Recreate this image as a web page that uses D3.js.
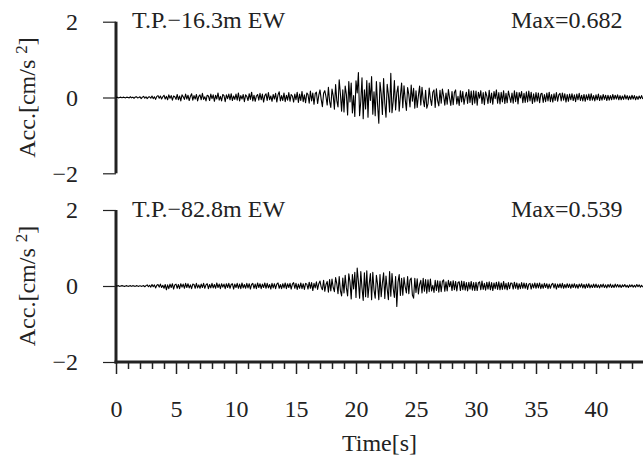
<!DOCTYPE html>
<html><head><meta charset="utf-8">
<script src="https://cdn.jsdelivr.net/npm/d3@7"></script>
<style>
html,body{margin:0;padding:0;background:#fff;}
svg{display:block;font-family:"Liberation Serif","Times New Roman",serif;}
</style></head>
<body>
<svg id="c" width="643" height="459"></svg>
<script>
// sampling interval of the records [s]
const dt = 0.1;
const panelNames = ["T.P.\u221216.3m EW", "T.P.\u221282.8m EW"];
const panelMax = ["Max=0.682", "Max=0.539"];
const yTicks = [-2, 0, 2];
const xMajorTicks = [0, 5, 10, 15, 20, 25, 30, 35, 40];
const xMinorTicks = [1,2,3,4,6,7,8,9,11,12,13,14,16,17,18,19,21,22,23,24,26,27,28,29,31,32,33,34,36,37,38,39,41,42,43];

// acceleration [cm/s^2], one row per second, 0.1 s steps (T.P.-16.3m EW)
const accTop = [
 0.00,0.01,-0.01,0.00,0.01,-0.01,0.01,0.00,-0.01,0.01,
 0.00,-0.01,0.02,-0.01,0.01,-0.02,0.01,0.02,-0.01,0.00,
 0.02,-0.03,0.01,0.03,-0.02,0.02,-0.03,0.01,0.02,-0.02,
 0.04,-0.03,0.02,-0.05,0.03,0.05,-0.02,0.04,-0.04,0.02,
 0.06,-0.04,0.03,-0.06,0.07,-0.02,0.05,-0.07,0.04,0.02,
 -0.05,0.08,-0.06,0.04,-0.09,0.07,0.02,-0.05,0.09,-0.04,
 0.06,-0.08,0.03,0.10,-0.07,0.05,-0.04,0.08,-0.09,0.03,
 0.07,-0.06,0.11,-0.05,0.02,-0.09,0.06,0.04,-0.08,0.09,
 -0.03,0.07,-0.10,0.06,-0.04,0.12,-0.07,0.03,-0.09,0.08,
 0.05,-0.11,0.07,-0.03,0.09,-0.06,0.10,-0.08,0.04,-0.05,
 0.09,-0.07,0.12,-0.09,0.05,-0.04,0.08,-0.11,0.07,0.03,
 -0.08,0.10,-0.05,0.14,-0.09,0.06,-0.10,0.04,0.08,-0.07,
 0.11,-0.06,0.09,-0.12,0.05,0.10,-0.08,0.13,-0.06,0.04,
 -0.10,0.08,-0.04,0.11,-0.12,0.07,0.15,-0.09,0.05,-0.08,
 0.12,-0.11,0.06,-0.07,0.13,-0.10,0.08,0.04,-0.12,0.09,
 -0.06,0.14,-0.13,0.09,-0.08,0.16,-0.11,0.07,-0.14,0.12,
 0.08,-0.15,0.17,-0.09,0.12,-0.18,0.10,0.14,-0.16,0.06,
 0.20,-0.05,-0.24,0.11,0.18,0.02,-0.20,0.27,-0.10,-0.26,
 0.22,0.05,-0.31,0.34,-0.08,-0.25,0.47,0.10,-0.36,0.20,
 -0.38,0.30,0.08,-0.46,0.42,-0.12,0.38,-0.41,0.05,-0.50,
 0.44,0.12,0.66,-0.48,-0.10,0.52,-0.56,0.20,-0.30,0.45,
 -0.52,0.38,-0.08,0.55,-0.44,0.15,-0.48,0.42,-0.20,-0.68,
 0.40,0.10,-0.45,0.50,-0.15,-0.52,0.35,0.08,-0.38,0.64,
 -0.40,-0.10,0.45,-0.33,0.12,0.30,-0.36,0.05,0.38,-0.27,
 0.31,-0.05,-0.34,0.26,0.08,-0.25,0.33,-0.10,0.24,-0.28,
 0.18,-0.26,0.05,0.30,-0.20,0.27,-0.06,-0.24,0.19,-0.28,
 -0.17,0.25,-0.03,-0.21,0.14,0.20,-0.26,0.23,-0.08,-0.22,
 0.19,-0.15,0.22,0.04,-0.20,0.12,-0.18,0.21,-0.02,-0.21,
 0.16,-0.19,0.13,0.20,-0.17,0.03,-0.21,0.18,-0.12,0.16,
 -0.18,0.02,0.14,-0.16,0.21,-0.13,0.17,-0.19,0.18,-0.15,
 0.17,-0.20,0.14,-0.02,0.18,-0.16,0.13,-0.19,0.15,0.04,
 -0.16,0.19,-0.14,0.12,-0.18,0.16,-0.03,0.20,-0.15,0.13,
 -0.17,0.14,-0.12,0.18,-0.16,0.11,-0.14,0.17,0.02,-0.13,
 0.12,-0.15,0.18,-0.11,0.14,-0.17,0.13,-0.01,0.16,-0.14,
 0.11,-0.13,0.15,-0.12,0.17,-0.09,0.14,-0.16,0.10,-0.12,
 0.13,-0.10,0.12,-0.14,0.09,0.11,-0.13,0.08,-0.11,0.12,
 -0.09,0.14,-0.11,0.08,-0.12,0.10,-0.08,0.13,-0.10,0.07,
 0.11,-0.09,0.12,-0.07,0.10,-0.12,0.08,-0.10,0.09,-0.06,
 0.10,-0.08,0.07,-0.11,0.09,-0.06,0.11,-0.08,0.06,-0.09,
 0.08,-0.10,0.07,-0.06,0.09,-0.08,0.10,-0.07,0.05,-0.09,
 0.07,-0.06,0.09,-0.08,0.05,-0.07,0.08,-0.05,0.06,-0.08,
 0.06,-0.07,0.05,-0.06,0.08,-0.05,0.06,-0.04,0.07,-0.06,
 0.05,-0.06,0.04,-0.05,0.07,-0.04,0.05,-0.06,0.04,-0.05,
 0.06,-0.04,0.05,-0.06,0.03,-0.05,0.04,-0.03,0.05,-0.04
];

// acceleration [cm/s^2], one row per second, 0.1 s steps (T.P.-82.8m EW)
const accBottom = [
 0.00,0.00,0.01,-0.01,0.00,0.01,0.00,-0.01,0.00,0.01,
 -0.01,0.00,0.01,-0.01,0.01,0.00,-0.01,0.01,0.00,-0.01,
 0.01,-0.01,0.00,0.01,-0.02,0.01,0.03,-0.02,0.02,-0.03,
 0.04,-0.02,0.03,-0.05,0.02,0.04,-0.03,0.05,-0.04,0.02,
 -0.06,0.04,-0.10,0.03,-0.07,0.05,-0.04,0.06,-0.08,0.03,
 0.05,-0.06,0.04,-0.07,0.06,-0.03,0.05,-0.06,0.07,-0.04,
 0.06,-0.05,0.03,-0.07,0.05,0.04,-0.06,0.07,-0.05,0.03,
 -0.06,0.05,-0.04,0.07,-0.06,0.03,0.06,-0.07,0.04,-0.05,
 0.07,-0.05,0.04,-0.06,0.08,-0.04,0.05,-0.07,0.06,-0.03,
 0.05,-0.07,0.06,-0.04,0.07,-0.06,0.04,0.06,-0.08,0.05,
 -0.04,0.07,-0.06,0.05,-0.07,0.08,-0.05,0.04,-0.06,0.07,
 -0.05,0.06,-0.08,0.04,0.07,-0.06,0.05,-0.07,0.08,-0.04,
 0.06,-0.07,0.05,-0.04,0.08,-0.06,0.07,-0.05,0.04,-0.08,
 0.07,-0.05,0.06,-0.07,0.05,0.08,-0.06,0.04,-0.07,0.06,
 -0.05,0.08,-0.07,0.06,-0.04,0.07,-0.08,0.05,0.09,-0.06,
 0.07,-0.09,0.05,-0.06,0.08,-0.07,0.06,-0.09,0.07,0.05,
 -0.08,0.10,-0.06,0.09,-0.12,0.07,-0.05,0.11,-0.09,0.06,
 0.13,-0.03,-0.10,0.15,-0.14,0.04,0.12,-0.16,0.17,-0.13,
 0.18,-0.04,-0.15,0.22,0.06,-0.20,0.25,-0.12,-0.26,0.21,
 -0.18,0.28,-0.05,-0.26,0.32,0.10,-0.34,0.30,-0.08,0.36,
 -0.30,0.47,0.12,-0.32,0.38,-0.05,-0.38,0.35,-0.28,0.40,
 -0.30,0.05,0.33,-0.36,0.36,-0.10,-0.32,0.28,0.04,-0.36,
 0.30,-0.28,0.08,0.35,-0.33,0.26,-0.08,-0.36,0.38,-0.27,
 0.33,-0.06,-0.30,0.25,-0.54,0.10,0.30,-0.25,0.20,-0.24,
 0.22,-0.02,-0.18,0.25,-0.20,0.16,0.21,-0.24,-0.32,0.20,
 -0.17,0.19,-0.21,0.04,0.15,-0.18,0.20,-0.14,0.17,-0.19,
 0.16,-0.15,0.18,-0.13,0.02,-0.17,0.15,-0.12,0.14,-0.16,
 0.13,-0.15,0.12,0.16,-0.14,0.11,-0.13,0.15,-0.02,0.12,
 -0.12,0.14,-0.10,0.12,-0.13,0.09,0.11,-0.12,0.13,-0.10,
 0.12,-0.11,0.09,-0.13,0.10,-0.08,0.12,-0.11,0.09,-0.12,
 0.10,-0.12,0.08,0.11,-0.10,0.13,-0.09,0.07,-0.11,0.10,
 -0.08,0.11,-0.10,0.09,-0.12,0.08,-0.07,0.10,-0.09,0.11,
 -0.10,0.08,-0.09,0.12,-0.08,0.07,-0.10,0.09,-0.07,0.08,
 0.07,-0.08,0.10,-0.06,0.08,-0.09,0.06,-0.07,0.09,-0.06,
 0.08,-0.06,0.07,-0.09,0.05,0.07,-0.08,0.06,-0.05,0.08,
 -0.06,0.07,-0.05,0.08,-0.07,0.05,-0.06,0.07,-0.04,0.06,
 -0.07,0.05,-0.06,0.04,0.07,-0.05,0.06,-0.08,0.05,-0.04,
 0.06,-0.05,0.07,-0.06,0.04,-0.05,0.06,-0.04,0.05,-0.06,
 0.05,-0.04,0.06,-0.05,0.04,-0.06,0.05,-0.03,0.06,-0.05,
 0.04,-0.06,0.05,-0.04,0.06,-0.05,0.03,-0.04,0.05,-0.04,
 0.05,-0.04,0.03,-0.05,0.04,-0.03,0.05,-0.04,0.03,-0.05,
 0.04,-0.03,0.05,-0.04,0.03,-0.04,0.05,-0.03,0.04,-0.03,
 0.03,-0.04,0.03,-0.02,0.04,-0.03,0.02,-0.04,0.03,-0.02,
 0.03,-0.03,0.02,-0.03,0.04,-0.02,0.03,-0.03,0.02,-0.03
];

const series = [accTop, accBottom];
const svg = d3.select("#c");
const W = 643;
const x = d3.scaleLinear().domain([0, 44]).range([116, 644]);
const panels = [
  {top: 21.7, bottom: 173.3},
  {top: 210, bottom: 362}
];
const font = 24;

panels.forEach((p, i) => {
  const y = d3.scaleLinear().domain([-2, 2]).range([p.bottom, p.top]);
  const g = svg.append("g");
  const cid = "clip" + i;
  svg.append("clipPath").attr("id", cid).append("rect")
    .attr("x", x(0)).attr("y", p.top - 10).attr("width", W - x(0)).attr("height", p.bottom - p.top + 20);

  // y axis
  const yAxis = d3.axisLeft(y).tickValues(yTicks).tickSize(13).tickPadding(26)
    .tickFormat(d => d < 0 ? "\u2212" + Math.abs(d) : String(d));
  const ya = g.append("g").attr("transform", `translate(${x(0)},0)`).call(yAxis);
  ya.select(".domain").remove();
  ya.selectAll(".tick line").attr("stroke", "#222").attr("stroke-width", 1.2);
  ya.selectAll(".tick text").attr("font-size", font).attr("font-family", "Liberation Serif")
    .attr("fill", "#222").attr("text-anchor", "end").attr("dy", "0.33em").attr("x", -38);
  g.append("line").attr("x1", x(0)).attr("x2", x(0))
    .attr("y1", y(2)).attr("y2", y(-2) + (i === 1 ? 1.5 : 0))
    .attr("stroke", "#222").attr("stroke-width", 3);

  // waveform
  const line = d3.line().x((d, k) => x(k * dt)).y(d => y(d));
  g.append("path").datum(series[i]).attr("clip-path", `url(#${cid})`)
    .attr("d", line).attr("fill", "none").attr("stroke", "#000").attr("stroke-width", 1.1)
    .attr("stroke-linejoin", "round");

  // titles
  g.append("text").attr("x", 132).attr("y", y(2) + 6.6).attr("font-size", font)
    .attr("fill", "#222").text(panelNames[i]);
  g.append("text").attr("x", 622.5).attr("y", y(2) + 6.6).attr("font-size", font)
    .attr("text-anchor", "end").attr("fill", "#222").text(panelMax[i]);

  // y label
  const cy = y(0);
  const lab = g.append("text").attr("transform", `translate(35,${cy}) rotate(-90)`)
    .attr("text-anchor", "middle").attr("font-size", font).attr("fill", "#222");
  lab.append("tspan").text("Acc.[cm/s ");
  lab.append("tspan").attr("dy", -8).attr("font-size", 17).text("2");
  lab.append("tspan").attr("dy", 8).text("]");

  if (i === 1) {
    const xa = g.append("g").attr("transform", `translate(0,${p.bottom})`);
    xa.call(d3.axisBottom(x).tickValues(xMajorTicks).tickSize(12).tickPadding(18)
      .tickFormat(d3.format("d")));
    xa.select(".domain").remove();
    xa.selectAll(".tick line").attr("stroke", "#222").attr("stroke-width", 1.5);
    xa.selectAll(".tick text").attr("font-size", font).attr("font-family", "Liberation Serif")
      .attr("fill", "#222").attr("dy", 0).attr("y", 55);
    const xm = g.append("g").attr("transform", `translate(0,${p.bottom})`);
    xm.call(d3.axisBottom(x).tickValues(xMinorTicks).tickSize(7).tickFormat(""));
    xm.select(".domain").remove();
    xm.selectAll(".tick line").attr("stroke", "#222").attr("stroke-width", 1.5);
    g.append("line").attr("x1", x(0) - 1.5).attr("x2", W).attr("y1", p.bottom).attr("y2", p.bottom)
      .attr("stroke", "#222").attr("stroke-width", 3);
    g.append("text").attr("x", (x(0) + W) / 2).attr("y", 451).attr("text-anchor", "middle")
      .attr("font-size", font).attr("fill", "#222").text("Time[s]");
  }
});
</script>
</body></html>
